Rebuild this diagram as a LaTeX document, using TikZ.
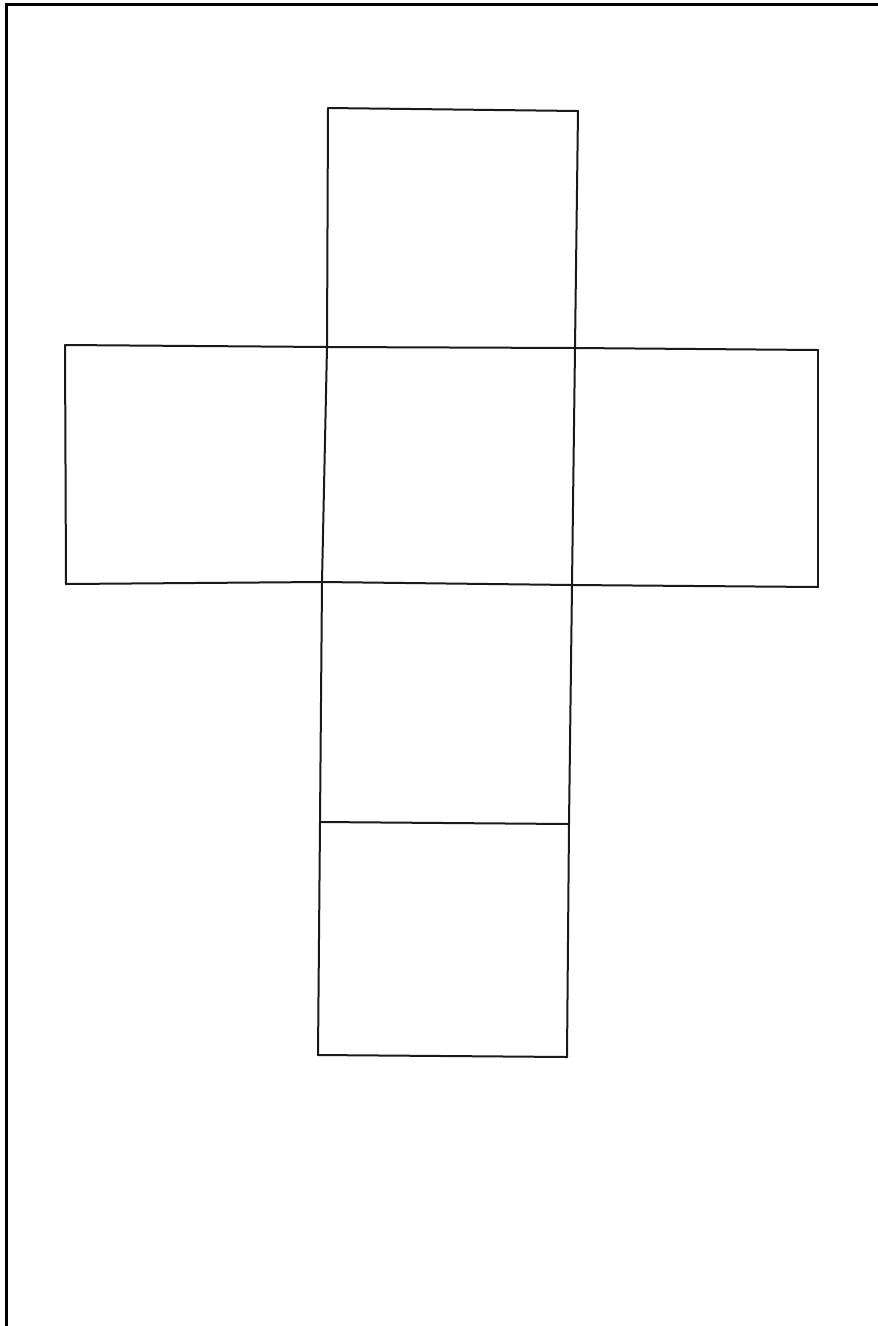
\documentclass[tikz,border=0pt]{standalone}
\begin{document}
\begin{tikzpicture}[x=1pt,y=-1pt,
  pen/.style={line width=2pt,line cap=round,line join=round,draw=black!90},
  frame/.style={line width=3pt,draw=black}]
\useasboundingbox (0,0) rectangle (878,1326);
\fill[white] (0,0) rectangle (878,1326);
% frame
\coordinate (f1) at (6,1326);
\coordinate (f2) at (6,4.5);
\coordinate (f3) at (878,4.5);
\draw[frame] (f1) -- (f2) -- (f3);
% left vertical of column
\coordinate (a0) at (328,108);
\coordinate (a1) at (327,347);
\coordinate (a2) at (322,582);
\coordinate (a3) at (320,822);
\coordinate (a4) at (318,1055);
% right vertical of column
\coordinate (b0) at (578,111);
\coordinate (b1) at (575,348);
\coordinate (b2) at (572,585);
\coordinate (b3) at (569,824);
\coordinate (b4) at (567,1057);
% wings
\coordinate (l1) at (65,345);
\coordinate (l2) at (66,584);
\coordinate (r1) at (818,350);
\coordinate (r2) at (818,587);
\draw[pen] (a0) -- (a1) -- (a2) -- (a3) -- (a4);
\draw[pen] (b0) -- (b1) -- (b2) -- (b3) -- (b4);
\draw[pen] (a0) -- (b0);
\draw[pen] (l1) -- (a1) -- (b1) -- (r1);
\draw[pen] (l2) -- (a2) -- (b2) -- (r2);
\draw[pen] (a3) -- (b3);
\draw[pen] (a4) -- (b4);
\draw[pen] (l1) -- (l2);
\draw[pen] (r1) -- (r2);
\end{tikzpicture}
\end{document}
